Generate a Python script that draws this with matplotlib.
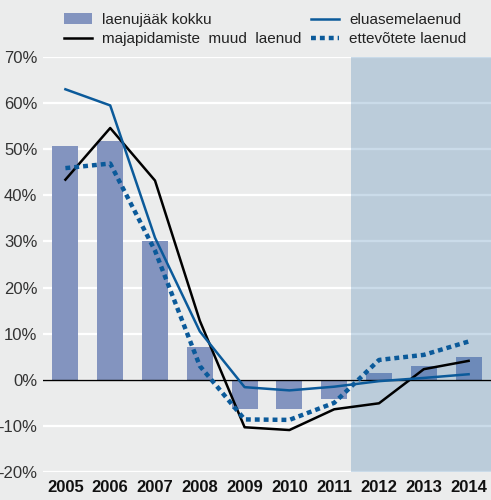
import matplotlib
matplotlib.use("Agg")
import matplotlib.pyplot as plt
import numpy as np

years = ["2005", "2006", "2007", "2008", "2009", "2010", "2011", "2012", "2013", "2014"]
total = [50.7, 51.8, 30.1, 7.1, -6.3, -6.3, -4.1, 1.5, 3.0, 5.0]
housing = [63.0, 59.5, 30.8, 10.5, -1.6, -2.3, -1.5, -0.3, 0.4, 1.2]
household_other = [43.4, 54.6, 43.2, 12.8, -10.3, -10.9, -6.4, -5.1, 2.3, 4.1]
business = [45.9, 46.9, 28.0, 3.0, -8.6, -8.7, -5.0, 4.3, 5.4, 8.3]
legend_labels = ["laenujääk kokku", "majapidamiste  muud  laenud", "eluasemelaenud", "ettevõtete laenud"]
yticks = [-20, -10, 0, 10, 20, 30, 40, 50, 60, 70]
shade_start = 6.38

plt.rcParams['font.family'] = ['Liberation Sans', 'DejaVu Sans']
bg = '#EBECEC'
fig = plt.figure(figsize=(4.91, 5.0), dpi=100, facecolor=bg)
ax = fig.add_axes([0.0876, 0.056, 0.9124, 0.83])
ax.set_facecolor(bg)
x = np.arange(len(years))

for t in yticks:
    ax.axhline(t, color='white', lw=1.6, zorder=0.5)

bars = ax.bar(x, total, width=0.58, color='#8394BF', zorder=1)
ax.axvspan(shade_start, 9.5, color='#2F70A8', alpha=0.25, lw=0, zorder=2)
ax.axhline(0, color='black', lw=1.0, zorder=3)

blue = '#0B5A9A'
l_black, = ax.plot(x, household_other, color='black', lw=1.8, zorder=4)
l_blue, = ax.plot(x, housing, color=blue, lw=1.8, zorder=4)
l_dot, = ax.plot(x, business, color=blue, lw=3.2, zorder=4, linestyle=(0, (1.1, 0.9)))

ax.set_xlim(-0.5, 9.5)
ax.set_ylim(-20, 70)
ax.set_yticks(yticks)
ax.set_yticklabels([f"{t}%" for t in yticks], fontsize=12, color='#333333')
ax.set_xticks(x)
ax.set_xticklabels(years, fontsize=12, fontweight='bold', color='#111111')
ax.tick_params(axis='both', length=0)
ax.tick_params(axis='y', pad=4)
ax.tick_params(axis='x', pad=6)
for s in ax.spines.values():
    s.set_visible(False)

common = dict(loc='upper left', frameon=False, fontsize=11, handlelength=1.85,
              handletextpad=0.65, labelspacing=0.32, labelcolor='#222222',
              borderpad=0, borderaxespad=0)
leg1 = fig.legend([bars, l_black], legend_labels[:2],
                  bbox_to_anchor=(64 / 491, 1 - 13 / 500), **common)
leg2 = fig.legend([l_blue, l_dot], legend_labels[2:],
                  bbox_to_anchor=(311 / 491, 1 - 13 / 500), **common)

fig.savefig('out.png', dpi=100, facecolor=bg)
